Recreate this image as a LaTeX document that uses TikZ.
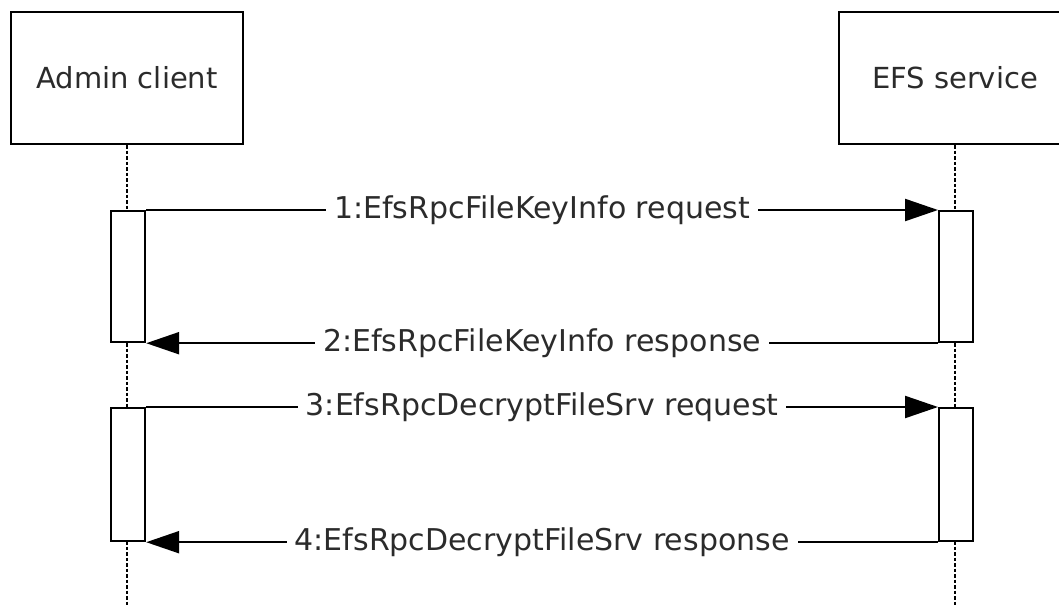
\documentclass[tikz,border=0pt]{standalone}
\usepackage{fontspec}
\setmainfont{DejaVu Sans}
\usetikzlibrary{arrows.meta}
\definecolor{txt}{HTML}{2B2B2B}
\begin{document}
\begin{tikzpicture}[x=1pt,y=-1pt,
  actor/.style={draw=black,line width=2.2pt,fill=white,minimum width=232pt,minimum height=132pt,inner sep=0pt,font=\fontsize{29}{34}\selectfont,text=txt},
  bar/.style={draw=black,line width=2.2pt,fill=white,minimum width=34pt,inner sep=0pt,anchor=north west},
  life/.style={line width=2pt,dash pattern=on 3.5pt off 2pt},
  msg/.style={line width=2.2pt,-{Triangle[length=33pt,width=22pt]}},
  lbl/.style={fill=white,inner xsep=8pt,inner ysep=2pt,font=\fontsize{30}{35}\selectfont,text=txt}]
\useasboundingbox (0,0) rectangle (1059,605);
\node[actor] (admin) at (127,78) {Admin client};
\node[actor] (efs) at (955,78) {EFS service};
\coordinate (lend) at (127,605);
\coordinate (rend) at (955,605);
\draw[life] (admin.south) -- (lend);
\draw[life] (efs.south) -- (rend);
\node[bar,minimum height=131pt] (la) at (110,210) {};
\node[bar,minimum height=131pt] (ra) at (938,210) {};
\node[bar,minimum height=133pt] (lb) at (110,407) {};
\node[bar,minimum height=133pt] (rb) at (938,407) {};
\draw[msg] (la.north east) -- node[lbl] {1:EfsRpcFileKeyInfo request} (ra.north west);
\draw[msg] (ra.south west) -- node[lbl] {2:EfsRpcFileKeyInfo response} (la.south east);
\draw[msg] (lb.north east) -- node[lbl] {3:EfsRpcDecryptFileSrv request} (rb.north west);
\draw[msg] (rb.south west) -- node[lbl] {4:EfsRpcDecryptFileSrv response} (lb.south east);
\end{tikzpicture}
\end{document}
